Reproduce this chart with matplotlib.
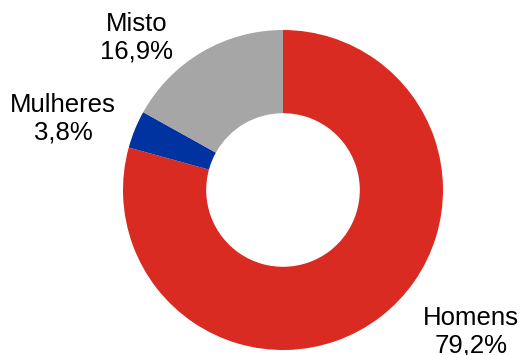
import matplotlib.pyplot as plt

categories = ["Homens", "Mulheres", "Misto"]
shares = [79.2, 3.8, 16.9]
share_labels = ["79,2%", "3,8%", "16,9%"]
colors = ["#D92B21", "#0033A0", "#A6A6A6"]

plt.rcParams["font.family"] = ["Liberation Sans", "DejaVu Sans"]

fig = plt.figure(figsize=(5.27, 3.55), dpi=100)
ax = fig.add_axes([0, 0, 1, 1])

cx, cy, r = 283, 165, 160
ax.pie(shares, colors=colors, startangle=90, counterclock=False,
       center=(cx, cy), radius=r, frame=True,
       wedgeprops=dict(width=r * 0.52, linewidth=0))
ax.set_xlim(0, 527)
ax.set_ylim(0, 355)
ax.set_aspect("equal")
ax.axis("off")

# label anchors (data coords, y up)
label_pos = [(471, 23), (63, 236), (137, 317)]
for name, lab, (x, y) in zip(categories, share_labels, label_pos):
    ax.text(x, y, f"{name}\n{lab}", ha="center", va="center",
            fontsize=18.5, linespacing=1.18, color="black")

fig.savefig("out.png", dpi=100)
